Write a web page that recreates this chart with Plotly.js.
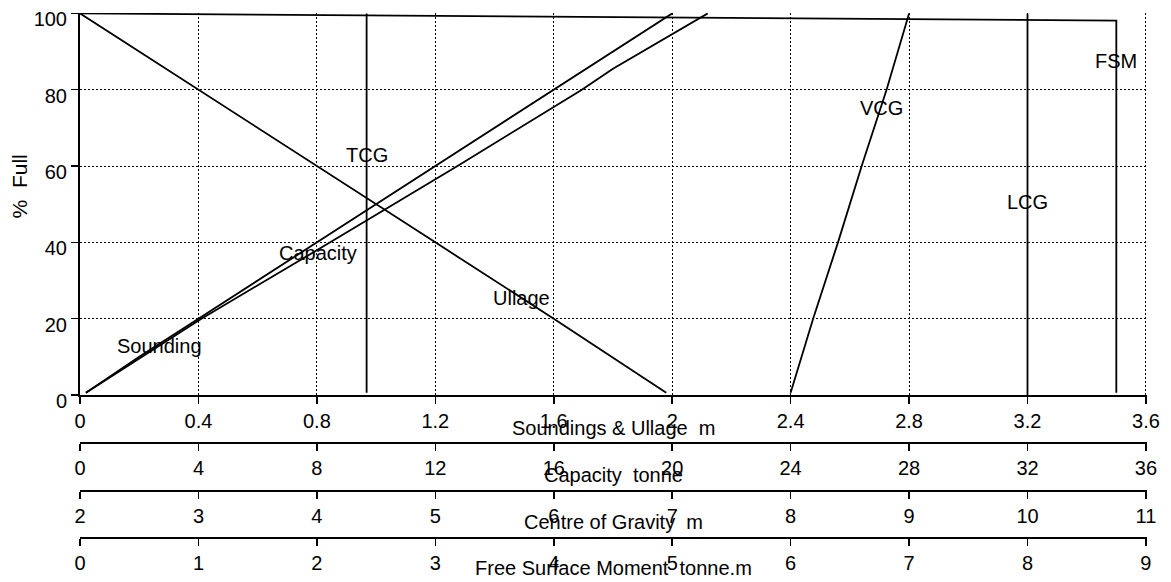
<!DOCTYPE html>
<html>
<head>
<meta charset="utf-8">
<script src="https://cdn.plot.ly/plotly-3.0.1.min.js"></script>
<style>
  html, body { margin: 0; padding: 0; background: #fff; }
  #chart { width: 1171px; height: 582px; }
</style>
</head>
<body>
<div id="chart"></div>
<script>
// Tank calibration curves: every property plotted against % Full.

// Sounding (m)
const soundPct = [0.6, 10, 20, 40, 60, 80, 90, 100];
const soundM   = [0.02, 0.2, 0.4, 0.8, 1.2, 1.6, 1.8, 2.0];

// Ullage (m)
const ullPct = [0.6, 20, 40, 60, 80, 85, 100];
const ullM   = [1.98, 1.6, 1.2, 0.8, 0.4, 0.3, 0];

// Capacity (tonne)
const capPct = [0.6, 20, 40, 60, 80, 85.5, 100];
const capT   = [0.2, 4.1, 8.45, 12.75, 16.95, 18.0, 21.2];

// Centres of gravity (m)
const vcgPct = [0.6, 20, 40, 60, 80, 100];
const vcgM   = [8.0, 8.19, 8.40, 8.60, 8.81, 9.0];
const tcgPct = [0.6, 100];
const tcgM   = [4.42, 4.42];
const lcgPct = [0, 100];
const lcgM   = [10.0, 10.0];

// Free surface moment (tonne.m)
const fsmPct = [0.6, 98.1, 100];
const fsmTm  = [8.75, 8.75, 0];

// Scale ranges and tick steps of the four horizontal scales
const soundRange = [0, 3.6], soundStep = 0.4;
const capRange   = [0, 36],  capStep   = 4;
const cgRange    = [2, 11],  cgStep    = 1;
const fsmRange   = [0, 9],   fsmStep   = 1;
const pctRange   = [0, 100], pctStep   = 20;

// a hair of headroom so the grid line at the far end of each range is drawn
const edge = 1.001;

const FONT = 'Liberation Sans, Arial, sans-serif';
const black = '#000';
const line = { color: black, width: 1.8 };

function curve(name, x, y, xaxis) {
  return { type: 'scatter', mode: 'lines', name, x, y, xaxis, yaxis: 'y',
           line, hoverinfo: 'skip', showlegend: false };
}

const traces = [
  curve('Sounding', soundM, soundPct, 'x'),
  curve('Ullage', ullM, ullPct, 'x'),
  curve('Capacity', capT, capPct, 'x2'),
  curve('VCG', vcgM, vcgPct, 'x3'),
  curve('TCG', tcgM, tcgPct, 'x3'),
  curve('LCG', lcgM, lcgPct, 'x3'),
  curve('FSM', fsmTm, fsmPct, 'x4')
];

const tickFont = { family: FONT, size: 20, color: black };
const gridDash = '2px,2px';

function stretch(r) { return [r[0], r[0] + (r[1] - r[0]) * edge]; }

function lowerAxis(range, step, pos) {
  return {
    overlaying: 'x', anchor: 'free', position: pos, side: 'bottom',
    range: stretch(range), dtick: step, tick0: range[0],
    showline: true, linecolor: black, linewidth: 2,
    ticks: 'outside', ticklen: 7, tickwidth: 1.5, tickcolor: black,
    showgrid: false, zeroline: false, tickfont: tickFont, fixedrange: true
  };
}

// Curve captions sit on their own curves
function tag(text, xref, x, y) {
  return { text, xref, yref: 'y', x, y, showarrow: false,
           xanchor: 'center', yanchor: 'middle', font: tickFont };
}
function scaleTitle(text, y) {
  return { text, xref: 'paper', yref: 'paper', x: 0.5, y, showarrow: false,
           xanchor: 'center', yanchor: 'middle', font: tickFont };
}

const layout = {
  width: 1171, height: 582,
  margin: { l: 80, r: 24, t: 13, b: 44, pad: 0 },
  paper_bgcolor: '#fff', plot_bgcolor: '#fff',
  font: { family: FONT, size: 20, color: black },
  showlegend: false,
  xaxis: {
    range: stretch(soundRange), dtick: soundStep, tick0: 0, anchor: 'y',
    showline: true, linecolor: black, linewidth: 2,
    ticks: 'outside', ticklen: 7, tickwidth: 1.5, tickcolor: black,
    showgrid: true, gridcolor: black, gridwidth: 1, griddash: gridDash,
    zeroline: false, tickfont: tickFont, fixedrange: true
  },
  xaxis2: lowerAxis(capRange, capStep, 0.1804),
  xaxis3: lowerAxis(cgRange, cgStep, 0.0901),
  xaxis4: lowerAxis(fsmRange, fsmStep, 0),
  yaxis: {
    domain: [0.2724, 1], range: stretch(pctRange), dtick: pctStep, anchor: 'x',
    showline: true, linecolor: black, linewidth: 2,
    ticks: 'outside', ticklen: 7, tickwidth: 1.5, tickcolor: black,
    showgrid: true, gridcolor: black, gridwidth: 1, griddash: gridDash,
    zeroline: false, tickfont: tickFont, ticklabelshift: 6, fixedrange: true
  },
  annotations: [
    tag('Sounding', 'x', 0.27, 12.8),
    tag('Capacity', 'x2', 8.05, 37.2),
    tag('TCG', 'x3', tcgM[0], 62.9),
    tag('Ullage', 'x', 1.49, 25.4),
    tag('VCG', 'x3', 8.77, 75.3),
    tag('LCG', 'x3', lcgM[0], 50.6),
    tag('FSM', 'x4', fsmTm[0], 87.6),
    scaleTitle('Soundings & Ullage  m', 0.2095),
    scaleTitle('Capacity  tonne', 0.12),
    scaleTitle('Centre of Gravity  m', 0.031),
    scaleTitle('Free Surface Moment  tonne.m', -0.057),
    { text: '%  Full', xref: 'paper', yref: 'paper', x: -0.0558, y: 0.6705,
      textangle: -90, showarrow: false, xanchor: 'center', yanchor: 'middle',
      font: { family: FONT, size: 21, color: black } }
  ]
};

Plotly.newPlot('chart', traces, layout, { staticPlot: true, displayModeBar: false });
</script>
</body>
</html>
